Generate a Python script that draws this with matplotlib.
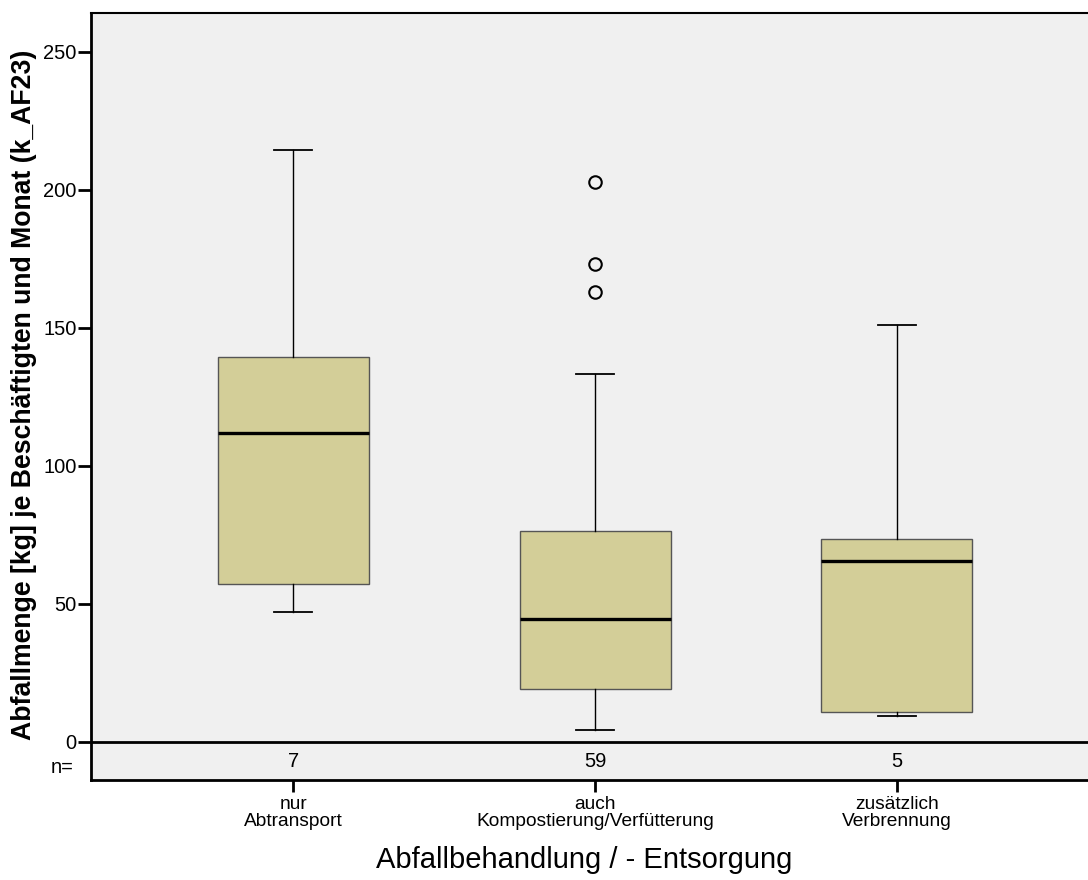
import matplotlib
matplotlib.use("Agg")
import matplotlib.pyplot as plt

plt.rcParams['font.family'] = ['Liberation Sans', 'DejaVu Sans']

categories = ["nur\nAbtransport", "auch\nKompostierung/Verfütterung", "zusätzlich\nVerbrennung"]
n_counts = [7, 59, 5]
whisker_low = [47.1, 4.2, 9.4]
q1 = [57.0, 19.1, 10.8]
median = [111.7, 44.5, 65.4]
q3 = [139.5, 76.3, 73.4]
whisker_high = [214.4, 133.3, 151.0]
outliers = [[], [202.8, 173.0, 163.0], []]
yticks = [0, 50, 100, 150, 200, 250]

W, H = 1088, 880
fig = plt.figure(figsize=(W / 100, H / 100), dpi=100)
left_px, right_px, top_px, bottom_px = 91, 1088, 13, 780
ax = fig.add_axes([left_px / W, 1 - bottom_px / H, (right_px - left_px) / W, (bottom_px - top_px) / H])
ax.set_facecolor('#f0f0f0')

stats = []
for i in range(3):
    stats.append(dict(whislo=whisker_low[i], q1=q1[i], med=median[i], q3=q3[i],
                      whishi=whisker_high[i], fliers=outliers[i]))

positions = [1, 2, 3]
ax.bxp(stats, positions=positions, widths=0.5, patch_artist=True, showfliers=True,
       capwidths=0.125,
       boxprops=dict(facecolor='#d3ce98', edgecolor='#555555', linewidth=1.0),
       medianprops=dict(color='black', linewidth=2.4, solid_capstyle='butt'),
       whiskerprops=dict(color='black', linewidth=1.0),
       capprops=dict(color='black', linewidth=1.3),
       flierprops=dict(marker='o', markersize=9, markerfacecolor='none',
                       markeredgecolor='black', markeredgewidth=1.5))

ymin, ymax = -13.9, 264.0
ax.set_xlim(0.33, 3.633)
ax.set_ylim(ymin, ymax)

ax.axhline(0, color='black', linewidth=2.0, zorder=3)
for p, n in zip(positions, n_counts):
    ax.text(p, -7.3, str(n), ha='center', va='center', fontsize=14.5)
ax.text(-0.017, -9.2, "n=", transform=ax.get_yaxis_transform(), ha='right', va='center', fontsize=14.5)

ax.set_yticks(yticks)
ax.set_yticklabels([str(v) for v in yticks], fontsize=14.5)
ax.set_xticks(positions)
ax.set_xticklabels(categories, fontsize=13.8, linespacing=1.0)
ax.tick_params(axis='y', length=9.4, width=2, pad=1)
ax.tick_params(axis='x', length=8.6, width=2, pad=3)

ax.spines['right'].set_visible(False)
ax.spines['left'].set_linewidth(2)
ax.spines['top'].set_linewidth(1.5)
ax.spines['bottom'].set_linewidth(2)

fig.text(24 / W, 1 - 395 / H, "Abfallmenge [kg] je Beschäftigten und Monat (k_AF23)",
         rotation=90, ha='center', va='center', fontsize=19.2, fontweight='bold')
fig.text(584 / W, 1 - 860 / H, "Abfallbehandlung / - Entsorgung",
         ha='center', va='center', fontsize=21)

fig.savefig("out.png", dpi=100)
